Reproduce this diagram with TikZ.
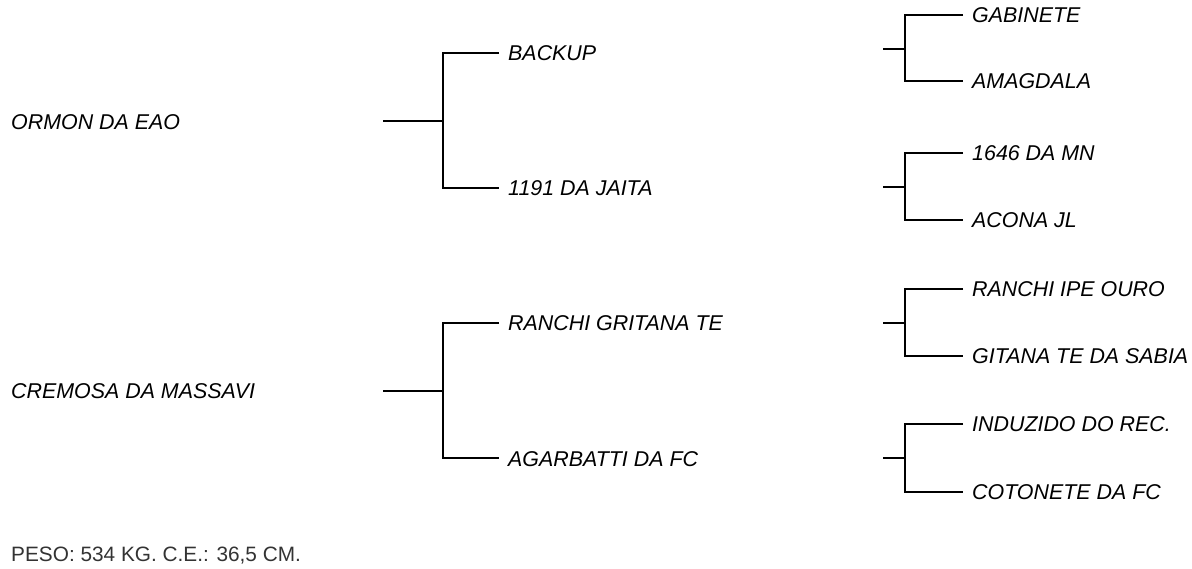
\documentclass[tikz,border=0pt]{standalone}
\usepackage{fontspec}
\setmainfont{Liberation Sans}
\begin{document}
\begin{tikzpicture}[x=1pt,y=-1pt,
  lab/.style={anchor=base west, inner sep=0pt, font=\fontsize{21.4}{25}\selectfont\itshape},
  foot/.style={anchor=base west, inner sep=0pt, text=black!80, font=\fontsize{20.8}{24}\selectfont},
  ln/.style={line width=1.6pt, line join=miter}]
\useasboundingbox[fill=white] (0,0) rectangle (1192,569);

% roots
\node[lab] (ormon) at (11,129.5) {ORMON DA EAO};
\node[lab] (cremosa) at (11,398.5) {CREMOSA DA MASSAVI};

% generation 2
\node[lab] (backup) at (508,61) {BACKUP};
\node[lab] (jaita) at (508,196) {1191 DA JAITA};
\node[lab] (ranchi) at (508,331) {RANCHI GRITANA TE};
\node[lab] (agar) at (508,466) {AGARBATTI DA FC};

% generation 3
\node[lab] (gab) at (972,22.5) {GABINETE};
\node[lab] (ama) at (972,88.5) {AMAGDALA};
\node[lab] (mn) at (972,160.5) {1646 DA MN};
\node[lab] (acona) at (972,227.5) {ACONA JL};
\node[lab] (ipe) at (972,296.5) {RANCHI IPE OURO};
\node[lab] (sabia) at (972,363.5) {GITANA TE DA SABIA};
\node[lab] (indu) at (972,431.5) {INDUZIDO DO REC.};
\node[lab] (coto) at (972,499.5) {COTONETE DA FC};

\node[foot] (peso) at (11,561) {PESO: 534 KG. C.E.: 36,5 CM.};

% connector coordinates
\coordinate (r1s) at (383,121);  \coordinate (r1j) at (443,121);
\coordinate (r2s) at (383,391);  \coordinate (r2j) at (443,391);
\coordinate (bkE) at (499,53);   \coordinate (jaE) at (499,188);
\coordinate (raE) at (499,323);  \coordinate (agE) at (499,458);

\coordinate (g1s) at (883,49);   \coordinate (g1j) at (905,49);
\coordinate (g2s) at (883,187);  \coordinate (g2j) at (905,187);
\coordinate (g3s) at (883,323);  \coordinate (g3j) at (905,323);
\coordinate (g4s) at (883,458);  \coordinate (g4j) at (905,458);

\coordinate (gabE) at (963,15);   \coordinate (amaE) at (963,81);
\coordinate (mnE) at (963,153);   \coordinate (acoE) at (963,220);
\coordinate (ipeE) at (963,289);  \coordinate (sabE) at (963,356);
\coordinate (indE) at (963,424);  \coordinate (cotE) at (963,492);

% connectors
\draw[ln] (r1s) -- (r1j) (bkE) -| (r1j) |- (jaE);
\draw[ln] (r2s) -- (r2j) (raE) -| (r2j) |- (agE);
\draw[ln] (g1s) -- (g1j) (gabE) -| (g1j) |- (amaE);
\draw[ln] (g2s) -- (g2j) (mnE) -| (g2j) |- (acoE);
\draw[ln] (g3s) -- (g3j) (ipeE) -| (g3j) |- (sabE);
\draw[ln] (g4s) -- (g4j) (indE) -| (g4j) |- (cotE);
\end{tikzpicture}
\end{document}
